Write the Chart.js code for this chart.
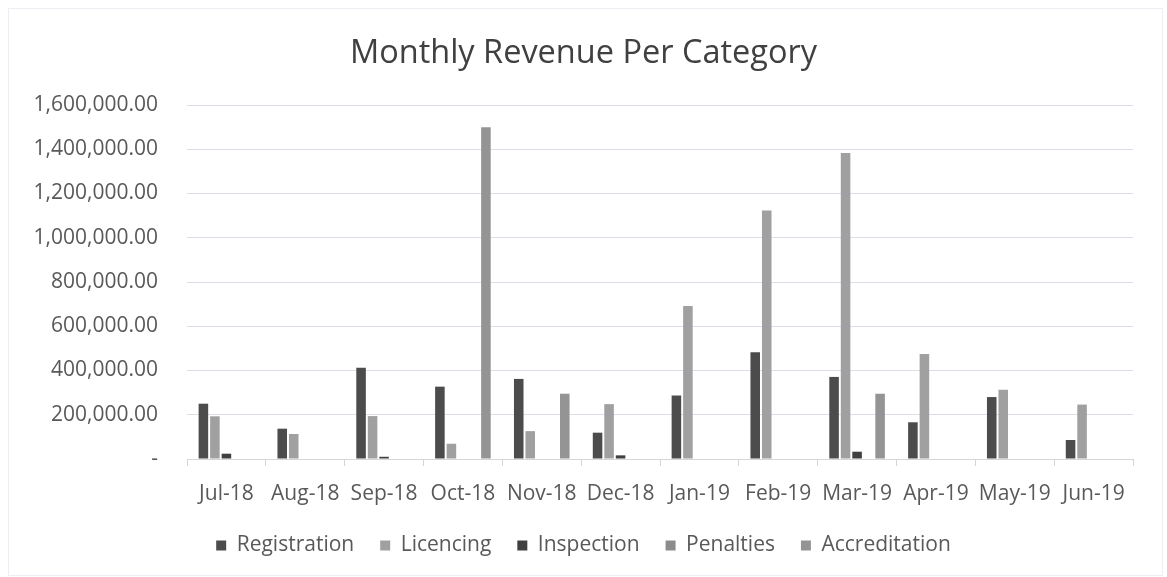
<!DOCTYPE html>
<html>
<head>
<meta charset="utf-8">
<script src="https://cdn.jsdelivr.net/npm/chart.js@4/dist/chart.umd.min.js"></script>
<style>
  html, body { margin: 0; padding: 0; background: #ffffff; }
  #wrap { width: 1167px; height: 577px; position: relative; }
</style>
</head>
<body>
<div id="wrap"><canvas id="c" width="1167" height="577"></canvas></div>
<script>
const categories = ["Jul-18","Aug-18","Sep-18","Oct-18","Nov-18","Dec-18","Jan-19","Feb-19","Mar-19","Apr-19","May-19","Jun-19"];
const registration  = [250000,137000,412000,327000,362000,119000,287000,482000,371000,166000,280000,86000];
const licencing     = [193000,113000,194000,69000,126000,248000,691000,1123000,1383000,475000,313000,246000];
const inspection    = [24000,0,10000,0,0,16500,0,0,33000,0,0,0];
const penalties     = [0,0,0,0,0,0,0,0,0,0,0,0];
const accreditation = [0,0,0,1500000,295000,0,0,0,295000,0,0,0];
const seriesNames = ["Registration","Licencing","Inspection","Penalties","Accreditation"];
const yMax = 1600000;
const yStep = 200000;

const colors = ["#4c4c4c","#a0a0a0","#404040","#8c8c8c","#949494"];
const FONT = "'Open Sans', 'Noto Sans', sans-serif";

const frame = {
  id: 'frame',
  beforeDraw(chart) {
    const ctx = chart.ctx;
    ctx.save();
    ctx.fillStyle = '#ffffff';
    ctx.fillRect(0, 0, chart.width, chart.height);
    ctx.strokeStyle = '#eceef4';
    ctx.lineWidth = 1;
    ctx.strokeRect(8.5, 8.5, chart.width - 13, chart.height - 10);
    ctx.restore();
  }
};

const fmt = v => v === 0 ? '-' : v.toLocaleString('en-US', {minimumFractionDigits: 2, maximumFractionDigits: 2});

new Chart(document.getElementById('c'), {
  type: 'bar',
  data: {
    labels: categories,
    datasets: [registration, licencing, inspection, penalties, accreditation].map((d, i) => ({
      label: seriesNames[i],
      data: d,
      backgroundColor: colors[i],
      borderWidth: 0,
      categoryPercentage: 0.73,
      barPercentage: 0.83
    }))
  },
  options: {
    responsive: false,
    animation: false,
    devicePixelRatio: 1,
    layout: { padding: { top: 34, left: 34, right: 34, bottom: 11 } },
    plugins: {
      title: {
        display: true,
        text: 'Monthly Revenue Per Category',
        color: '#404040',
        font: { family: FONT, size: 32.5, weight: 'normal', lineHeight: 1.2 },
        padding: { top: 0, bottom: 32 }
      },
      legend: {
        position: 'bottom',
        labels: {
          color: '#595959',
          font: { family: FONT, size: 21 },
          boxWidth: 10,
          boxHeight: 10,
          padding: 26
        }
      },
      tooltip: { enabled: false }
    },
    scales: {
      x: {
        grid: { drawOnChartArea: false, drawTicks: true, tickLength: 7, color: '#d6d6d6', offset: true },
        border: { display: true, color: '#d6d6d6' },
        ticks: { color: '#595959', font: { family: FONT, size: 21 }, padding: 15, maxRotation: 0 },
        afterFit(s) { s.height = 50; }
      },
      y: {
        min: 0,
        max: yMax,
        grid: { color: '#dcdde8', drawTicks: false },
        border: { display: false },
        ticks: {
          stepSize: yStep,
          color: '#595959',
          font: { family: FONT, size: 21 },
          padding: 29,
          callback: v => fmt(v)
        },
        afterFit(s) { s.width = 153; }
      }
    }
  },
  plugins: [frame]
});
</script>
</body>
</html>
